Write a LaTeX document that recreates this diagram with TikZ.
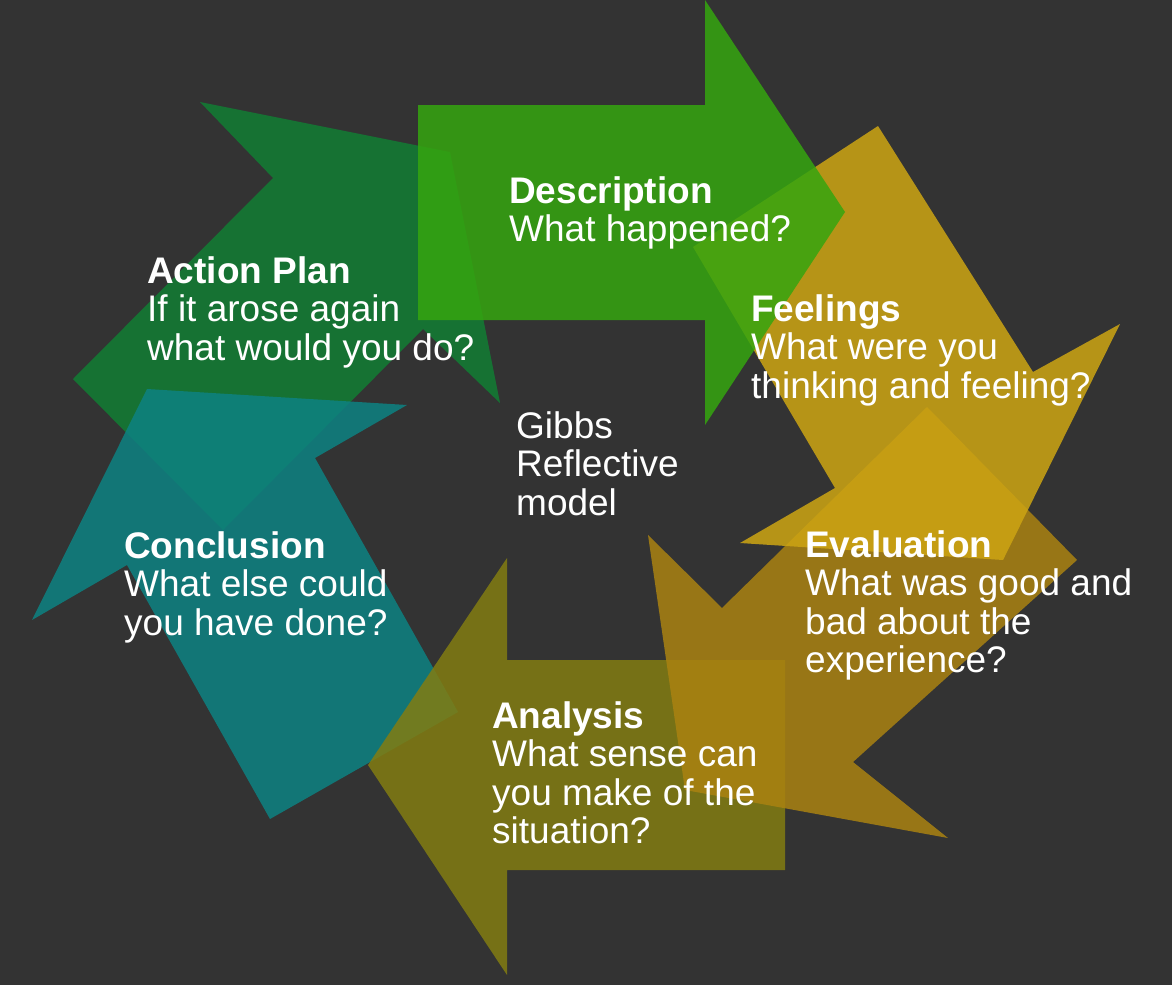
\documentclass[tikz,border=0pt]{standalone}
\usepackage{fontspec}
\setmainfont{Liberation Sans}
\definecolor{bg}{RGB}{51,51,51}
\definecolor{cdesc}{RGB}{53,165,15}
\definecolor{cfeel}{RGB}{206,165,19}
\definecolor{ceval}{RGB}{170,130,17}
\definecolor{cana}{RGB}{130,125,17}
\definecolor{ccon}{RGB}{13,130,130}
\definecolor{cact}{RGB}{17,126,52}
\tikzset{
  arr/.style={fill=#1, fill opacity=0.85, draw=none},
  lbl/.style={anchor=north west, inner sep=0pt, text=white, align=left,
    font=\fontsize{37}{38.5}\selectfont},
}
\begin{document}
\begin{tikzpicture}[x=1pt,y=-1pt]
\fill[bg] (0,0) rectangle (1172,985);
\useasboundingbox (0,0) rectangle (1172,985);
% Action Plan
\fill[arr=cact] (200,102) -- (450,152) -- (500,403) -- (423,329) -- (223,530) -- (73,379) -- (273,178) -- cycle;
% Conclusion
\fill[arr=ccon] (147,389) -- (407,405) -- (315,458) -- (458,712) -- (270,819) -- (127,565) -- (32,620) -- cycle;
% Analysis
\fill[arr=cana] (785,660) -- (507,660) -- (507,558) -- (368,765) -- (507,975) -- (507,870) -- (785,870) -- cycle;
% Evaluation
\fill[arr=ceval] (927,407) -- (1077,560) -- (853,762) -- (948,838) -- (685,790) -- (648,535) -- (722,608) -- cycle;
% Feelings
\fill[arr=cfeel] (693,247) -- (878,126) -- (1033,372) -- (1120,324) -- (1003,560) -- (740,543) -- (835,488) -- cycle;
% Description
\fill[arr=cdesc] (418,105) -- (705,105) -- (705,0) -- (845,212) -- (705,425) -- (705,320) -- (418,320) -- cycle;
% Texts
\node[lbl] (desc) at (509,176) {\textbf{Description}\\What happened?};
\node[lbl] (act) at (147,256) {\textbf{Action Plan}\\If it arose again\\what would you do?};
\node[lbl] (feel) at (751,294) {\textbf{Feelings}\\What were you\\thinking and feeling?};
\node[lbl] (gibbs) at (516,411) {Gibbs\\Reflective\\model};
\node[lbl] (eval) at (805,530) {\textbf{Evaluation}\\What was good and\\bad about the\\experience?};
\node[lbl] (ana) at (492,701) {\textbf{Analysis}\\What sense can\\you make of the\\situation?};
\node[lbl] (con) at (124,531) {\textbf{Conclusion}\\What else could\\you have done?};
\end{tikzpicture}
\end{document}
